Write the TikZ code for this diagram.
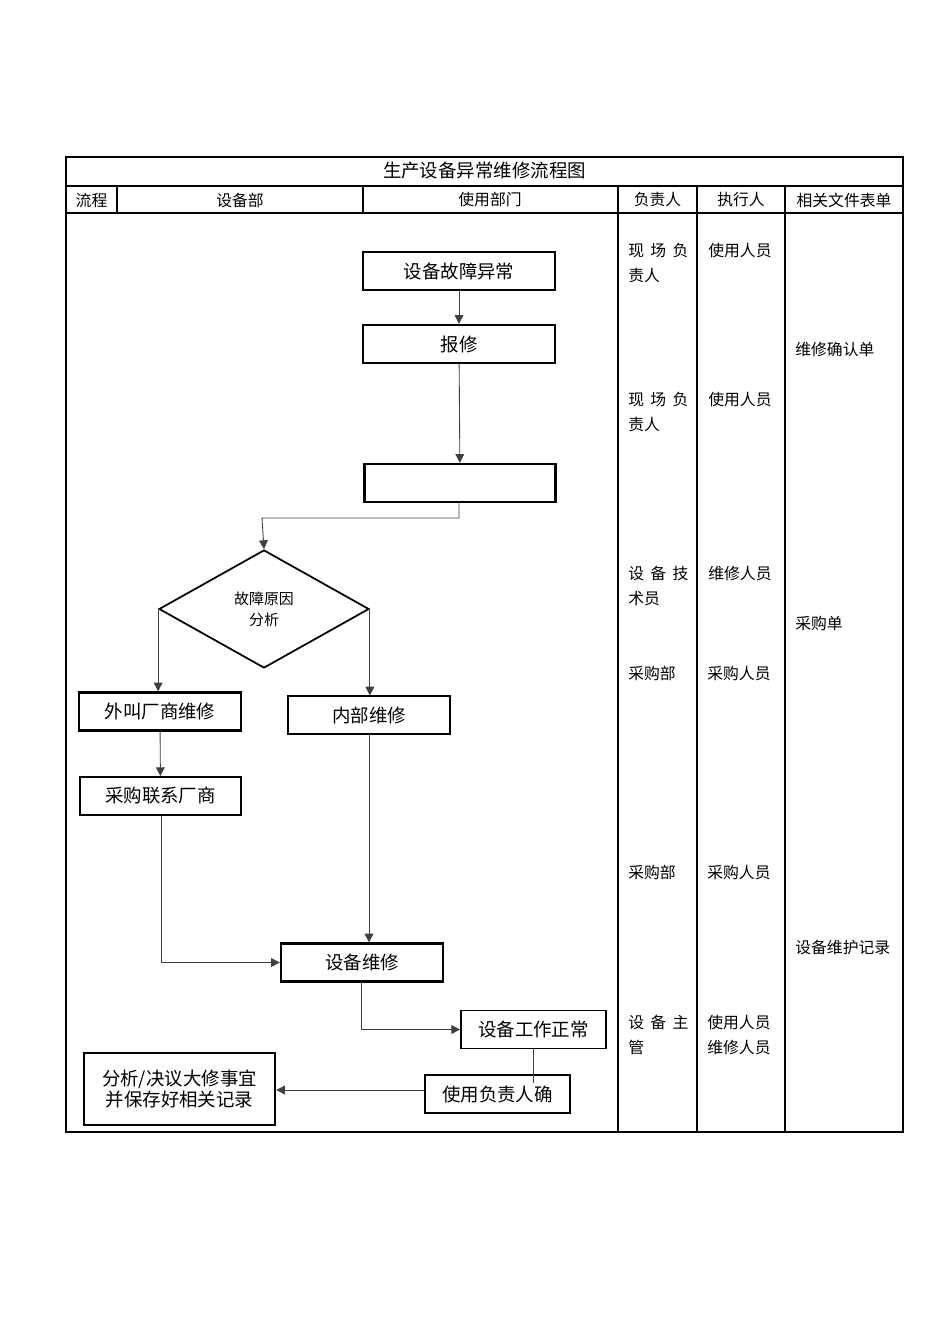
\documentclass[tikz,border=0pt]{standalone}
\usepackage{fontspec}
\setmainfont{Liberation Serif}
\newfontfamily\cjk{Noto Sans CJK SC}
\usetikzlibrary{shapes.geometric,arrows.meta}
\begin{document}
\begin{tikzpicture}[x=0.02cm,y=-0.02cm,
  line/.style={draw=black!75,line width=0.5pt},
  arr/.style={line,-{Triangle[length=5pt,width=5pt]}},
  box/.style={draw,line width=0.6pt,minimum height=0.76cm,font=\cjk\fontsize{10.5}{12}\selectfont},
  tbox/.style={box,line width=1.3pt},
  txt/.style={font=\cjk\fontsize{9}{14}\selectfont,anchor=north west,inner sep=0pt},
  ptxt/.style={txt,text width=60*0.02cm,align=left}]
\useasboundingbox (0,0) rectangle (950,1344);
% table
\draw[line width=0.6pt] (66,157) rectangle (903,1132);
\draw[line width=0.6pt] (66,186) -- (903,186) (66,213) -- (903,213);
\draw[line width=0.6pt] (117,186) -- (117,213) (363,186) -- (363,213);
\draw[line width=0.6pt] (618,186) -- (618,1132) (697,186) -- (697,1132) (785,186) -- (785,1132);
\node[font=\cjk\fontsize{10.5}{12}\selectfont] (title) at (484.5,171) {生产设备异常维修流程图};
\node[font=\cjk\fontsize{9}{12}\selectfont] (h1) at (91.5,200) {流程};
\node[font=\cjk\fontsize{9}{12}\selectfont] (h2) at (240,200) {设备部};
\node[font=\cjk\fontsize{9}{12}\selectfont] (h3) at (490,200) {使用部门};
\node[font=\cjk\fontsize{9}{12}\selectfont] (h4) at (657.5,200) {负责人};
\node[font=\cjk\fontsize{9}{12}\selectfont] (h5) at (741,200) {执行人};
\node[font=\cjk\fontsize{9}{12}\selectfont] (h6) at (844,200) {相关文件表单};
% boxes
\node[tbox,minimum width=192*0.02cm] (b1) at (459,271) {设备故障异常};
\node[tbox,minimum width=192*0.02cm] (b2) at (459,344) {报修};
\node[tbox,minimum width=191*0.02cm] (b3) at (460,483) {};
\node[diamond,draw,line width=1pt,aspect=1.78,minimum width=210*0.02cm,minimum height=118*0.02cm,inner sep=0pt,align=center,font=\cjk\fontsize{8.5}{12}\selectfont] (d) at (264,609) {故障原因\\分析};
\node[tbox,minimum width=162*0.02cm] (b4) at (160,711.5) {外叫厂商维修};
\node[box,minimum width=162*0.02cm] (b5) at (369,715) {内部维修};
\node[tbox,minimum width=161*0.02cm,line width=1pt] (b6) at (160.5,796) {采购联系厂商};
\node[tbox,minimum width=162*0.02cm] (b7) at (362,962.5) {设备维修};
\node[tbox,minimum width=145*0.02cm,line width=1pt] (b8) at (533.5,1029.5) {设备工作正常};
\node[tbox,minimum width=145*0.02cm,line width=1pt] (b9) at (497.5,1094) {使用负责人确};
\node[tbox,minimum width=191*0.02cm,minimum height=72*0.02cm,align=center,inner sep=2pt] (b10) at (179.5,1089) {分析/决议大修事宜\\并保存好相关记录};
% connectors
\draw[arr] (b1) -- (b2);
\draw[arr] (b2) -- (b3);
\coordinate (c1) at (459,518);
\coordinate (c2) at (262,518);
\draw[arr] (b3.south -| c1) -- (c1) -- (c2) -- (d.north);
\draw[arr] (d.west) -- (d.west |- b4.north);
\draw[arr] (d.east) -- (d.east |- b5.north);
\draw[arr] (b4) -- (b6);
\coordinate (c3) at (161,962.5);
\draw[arr] (b6.south -| c3) -- (c3) -- (b7.west);
\coordinate (c4) at (361,1029.5);
\draw[arr] (b7.south -| c4) -- (c4) -- (b8.west);
\draw[arr] (b5.south) -- (b5.south |- b7.north);
\coordinate (c5) at (533,1083);
\draw[line] (b8.south -| c5) -- (c5);
\draw[arr] (b9.west |- 0,1090) -- (b10.east |- 0,1090);
% side texts
\node[ptxt] (r1a) at (628,243) {现\hfill 场\hfill 负\\责人};
\node[txt] (r1b) at (708,243) {使用人员};
\node[ptxt] (r2a) at (628,392) {现\hfill 场\hfill 负\\责人};
\node[txt] (r2b) at (708,392) {使用人员};
\node[ptxt] (r3a) at (628,566) {设\hfill 备\hfill 技\\术员};
\node[txt] (r3b) at (708,566) {维修人员};
\node[txt] (r4a) at (628,666) {采购部};
\node[txt] (r4b) at (707,666) {采购人员};
\node[txt] (r5a) at (628,865) {采购部};
\node[txt] (r5b) at (707,865) {采购人员};
\node[ptxt] (r6a) at (628,1015) {设\hfill 备\hfill 主\\管};
\node[txt,align=left] (r6b) at (707,1015) {使用人员\\维修人员};
\node[txt] (f1) at (795,342) {维修确认单};
\node[txt] (f2) at (795,616) {采购单};
\node[txt] (f3) at (795,940) {设备维护记录};
\end{tikzpicture}
\end{document}
